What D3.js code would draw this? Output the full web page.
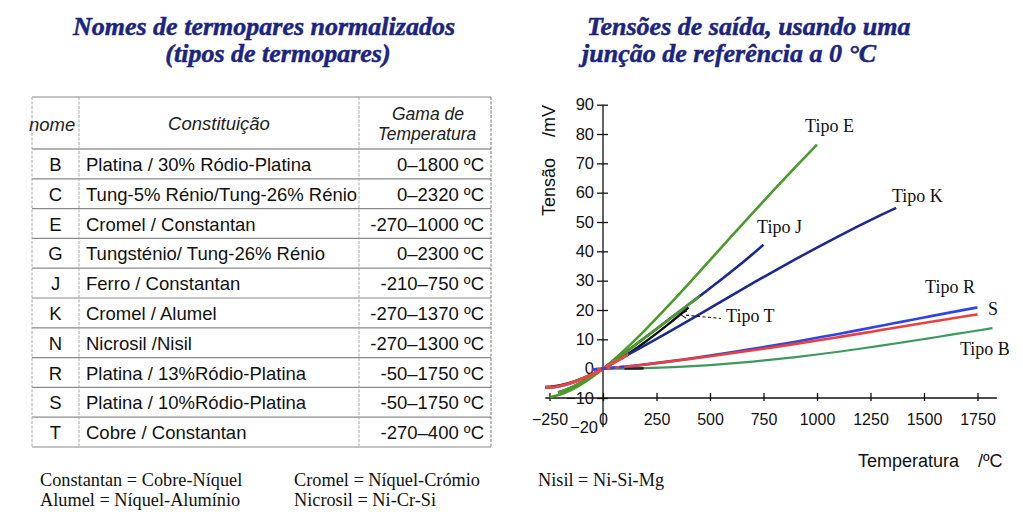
<!DOCTYPE html>
<html><head><meta charset="utf-8">
<script src="https://cdn.jsdelivr.net/npm/d3@7"></script>
<style>body{margin:0;background:#fff}svg{display:block}</style>
</head><body>
<svg id="c" width="1023" height="520"></svg>
<script>
// ---------------- DATA ----------------
const titleLeft = ["Nomes de termopares normalizados", "(tipos de termopares)"];
const titleRight = ["Tensões de saída, usando uma", "junção de referência a 0 °C"];

const tableHeaders = ["nome", "Constituição", "Gama de", "Temperatura"];
const tableNames = ["B", "C", "E", "G", "J", "K", "N", "R", "S", "T"];
const tableConstitution = [
  "Platina / 30% Ródio-Platina",
  "Tung-5% Rénio/Tung-26% Rénio",
  "Cromel / Constantan",
  "Tungsténio/ Tung-26% Rénio",
  "Ferro / Constantan",
  "Cromel / Alumel",
  "Nicrosil /Nisil",
  "Platina / 13%Ródio-Platina",
  "Platina / 10%Ródio-Platina",
  "Cobre / Constantan"
];
const tableRanges = [
  "0–1800 ºC", "0–2320 ºC", "-270–1000 ºC", "0–2300 ºC", "-210–750 ºC",
  "-270–1370 ºC", "-270–1300 ºC", "-50–1750 ºC", "-50–1750 ºC", "-270–400 ºC"
];

const footnotesCol1 = ["Constantan = Cobre-Níquel", "Alumel = Níquel-Alumínio"];
const footnotesCol2 = ["Cromel = Níquel-Crómio", "Nicrosil = Ni-Cr-Si"];
const footnotesCol3 = ["Nisil = Ni-Si-Mg"];

const xTicks = [-250, 0, 250, 500, 750, 1000, 1250, 1500, 1750];
const yTicks = [-20, -10, 0, 10, 20, 30, 40, 50, 60, 70, 80, 90];
const xTitle = ["Temperatura", "/ºC"];
const yTitle = ["Tensão", "/mV"];

// Thermocouple output (°C -> mV)
const tempE = [-250, -200, -150, -100, -50, 0, 100, 200, 300, 400, 500, 600, 700, 800, 900, 1000];
const mvE   = [-9.72, -8.83, -7.28, -5.24, -2.79, 0, 6.32, 13.42, 21.04, 28.95, 37.0, 45.09, 53.11, 61.02, 68.78, 76.37];

const tempJ = [-210, -200, -150, -100, -50, 0, 100, 200, 300, 400, 500, 600, 700, 750];
const mvJ   = [-8.10, -7.89, -6.50, -4.63, -2.43, 0, 5.27, 10.78, 16.33, 21.85, 27.39, 33.10, 39.13, 42.28];

const tempK = [-270, -250, -200, -150, -100, -50, 0, 100, 200, 300, 400, 500, 600, 700, 800, 900, 1000, 1100, 1200, 1300, 1370];
const mvK   = [-6.46, -6.40, -5.89, -4.91, -3.55, -1.89, 0, 4.10, 8.14, 12.21, 16.40, 20.64, 24.91, 29.13, 33.28, 37.33, 41.28, 45.12, 48.84, 52.41, 54.82];

const tempT = [-270, -250, -200, -150, -100, -50, 0, 100, 200, 300, 400];
const mvT   = [-6.26, -6.18, -5.60, -4.65, -3.38, -1.82, 0, 4.28, 9.29, 14.86, 20.87];

const tempR = [-50, 0, 100, 200, 300, 400, 500, 600, 700, 800, 900, 1000, 1100, 1200, 1300, 1400, 1500, 1600, 1700, 1750];
const mvR   = [-0.23, 0, 0.65, 1.47, 2.40, 3.41, 4.47, 5.58, 6.74, 7.95, 9.21, 10.51, 11.85, 13.23, 14.63, 16.04, 17.45, 18.85, 20.22, 20.88];

const tempS = [-50, 0, 100, 200, 300, 400, 500, 600, 700, 800, 900, 1000, 1100, 1200, 1300, 1400, 1500, 1600, 1700, 1750];
const mvS   = [-0.24, 0, 0.65, 1.44, 2.32, 3.26, 4.23, 5.24, 6.28, 7.35, 8.45, 9.59, 10.76, 11.95, 13.16, 14.37, 15.58, 16.78, 17.95, 18.50];

const tempB = [0, 100, 200, 300, 400, 500, 600, 700, 800, 900, 1000, 1100, 1200, 1300, 1400, 1500, 1600, 1700, 1800, 1820];
const mvB   = [0, 0.03, 0.18, 0.43, 0.79, 1.24, 1.79, 2.43, 3.15, 3.96, 4.83, 5.78, 6.79, 7.85, 8.96, 10.10, 11.26, 12.43, 13.59, 13.82];

const curveLabels = ["Tipo E", "Tipo K", "Tipo J", "Tipo R", "S", "Tipo B", "Tipo T"];

// ---------------- DRAW ----------------
const svg = d3.select("#c");
const defs = svg.append("defs");

const titleColor = "#1b2581";
const serif = "'Liberation Serif','Times New Roman',serif";
const sans = "'Liberation Sans',Arial,sans-serif";

function titleText(sel) {
  sel.attr("font-family", serif).attr("font-weight", "bold").attr("font-style", "italic")
    .attr("font-size", 26).attr("fill", titleColor)
    .attr("stroke", titleColor).attr("stroke-width", 0.5);
}
svg.append("g").selectAll("text").data(titleLeft).join("text")
  .attr("x", (d, i) => i === 0 ? 264 : 278).attr("y", (d, i) => 35 + i * 27)
  .attr("text-anchor", "middle").call(titleText).text(d => d);

svg.append("g").selectAll("text").data(titleRight).join("text")
  .attr("x", (d, i) => i === 0 ? 587 : 582).attr("y", (d, i) => 35 + i * 27)
  .call(titleText).text(d => d);

// Table
const tb = svg.append("g");
const colX = [32, 79, 359, 491];
const headTop = 97, headBot = 149, rowH = 29.8;
const rowTops = tableNames.map((d, i) => headBot + i * rowH);
const tableBottom = headBot + tableNames.length * rowH;

const hLines = [headTop, headBot].concat(rowTops.slice(1)).concat([tableBottom]);
tb.selectAll("line.h").data(hLines).join("line").attr("class", "h")
  .attr("x1", colX[0]).attr("x2", colX[3]).attr("y1", d => d).attr("y2", d => d)
  .attr("stroke", (d, i) => i === 1 ? "#6a6a6a" : "#8a8a8a").attr("stroke-width", 1.2);
tb.selectAll("line.v").data(colX).join("line").attr("class", "v")
  .attr("x1", d => d).attr("x2", d => d).attr("y1", headTop).attr("y2", tableBottom)
  .attr("stroke", (d, i) => i === 3 ? "#777" : "#a8a8a8").attr("stroke-width", 1).attr("stroke-dasharray", "3,1.5");

const hdr = tb.append("g").attr("font-family", sans).attr("font-style", "italic").attr("fill", "#222");
hdr.append("text").attr("x", 29).attr("y", 131).attr("font-size", 18.5).text(tableHeaders[0]);
hdr.append("text").attr("x", 219).attr("y", 130).attr("text-anchor", "middle").attr("font-size", 18.5).text(tableHeaders[1]);
hdr.append("text").attr("x", 428).attr("y", 120).attr("text-anchor", "middle").attr("font-size", 17.5).text(tableHeaders[2]);
hdr.append("text").attr("x", 427).attr("y", 140).attr("text-anchor", "middle").attr("font-size", 17.5).text(tableHeaders[3]);

const rows = tb.append("g").attr("font-family", sans).attr("font-size", 18.5).attr("fill", "#111")
  .selectAll("g").data(tableNames).join("g")
  .attr("transform", (d, i) => `translate(0,${rowTops[i] + 22})`);
rows.append("text").attr("x", 55.5).attr("text-anchor", "middle").text(d => d);
rows.append("text").attr("x", 86).text((d, i) => tableConstitution[i]);
rows.append("text").attr("x", 484).attr("text-anchor", "end").text((d, i) => tableRanges[i]);

// Footnotes
const fn = svg.append("g").attr("font-family", serif).attr("font-size", 18.3).attr("fill", "#111");
[[footnotesCol1, 40], [footnotesCol2, 294], [footnotesCol3, 538]].forEach(([arr, x0]) => {
  fn.append("g").selectAll("text").data(arr).join("text")
    .attr("x", x0).attr("y", (d, i) => 486 + i * 19.5).text(d => d);
});

// Chart
const x = d3.scaleLinear().domain([-250, 1750]).range([549.5, 977.5]);
const y = d3.scaleLinear().domain([-10, 90]).range([398, 104.7]);
const ch = svg.append("g");

const xAxisG = ch.append("g").attr("transform", `translate(0,${y(-10)})`)
  .call(d3.axisBottom(x).tickValues(xTicks).tickFormat(d3.format("d")).tickSize(8).tickSizeOuter(0));
xAxisG.select(".domain").remove();
xAxisG.append("line").attr("x1", x(-270)).attr("x2", x(1840)).attr("stroke", "#111").attr("stroke-width", 1.3);
xAxisG.selectAll(".tick line").attr("y1", -5).attr("y2", 3).attr("stroke", "#111").attr("stroke-width", 1.3);
xAxisG.selectAll(".tick text").attr("y", 16).attr("font-family", sans).attr("font-size", 16).attr("fill", "#111");

const yAxisG = ch.append("g").attr("transform", `translate(${x(0)},0)`)
  .call(d3.axisLeft(y).tickValues(yTicks).tickFormat(d3.format("d")).tickSize(6).tickSizeOuter(0));
yAxisG.select(".domain").remove();
yAxisG.append("line").attr("y1", y(90)).attr("y2", y(-20)).attr("stroke", "#111").attr("stroke-width", 1.3);
yAxisG.selectAll(".tick line").attr("x1", -6).attr("x2", 5).attr("stroke", "#111").attr("stroke-width", 1.3)
  .attr("display", d => d === -20 ? "none" : null);
yAxisG.selectAll(".tick text").attr("x", -9).attr("font-family", sans).attr("font-size", 16.5).attr("fill", "#111");
yAxisG.selectAll(".tick").filter(d => d === -20).select("text").attr("x", -5).attr("dy", "0.3em");

ch.append("text").attr("transform", `translate(555,187)rotate(-90)`).attr("text-anchor", "middle")
  .attr("font-family", sans).attr("font-size", 18).attr("fill", "#111").text(yTitle[0]);
ch.append("text").attr("transform", `translate(555,121)rotate(-90)`).attr("text-anchor", "middle")
  .attr("font-family", sans).attr("font-size", 18).attr("fill", "#111").text(yTitle[1]);
ch.append("text").attr("x", 858).attr("y", 467)
  .attr("font-family", sans).attr("font-size", 18).attr("fill", "#111").text(xTitle[0]);
ch.append("text").attr("x", 978).attr("y", 467)
  .attr("font-family", sans).attr("font-size", 18).attr("fill", "#111").text(xTitle[1]);

// curves
const line = d3.line().x(d => x(d[0])).y(d => y(d[1])).curve(d3.curveMonotoneX);
let clipN = 0;
function seg(ts, vs, color, w, t0, t1, dash) {
  const p = ch.append("path").datum(d3.zip(ts, vs)).attr("d", line)
    .attr("fill", "none").attr("stroke", color).attr("stroke-width", w)
    .attr("stroke-linejoin", "round");
  if (dash) p.attr("stroke-dasharray", dash);
  if (t0 !== undefined) {
    const id = "cl" + (clipN++);
    defs.append("clipPath").attr("id", id).append("rect")
      .attr("x", x(t0)).attr("y", 0).attr("width", x(t1) - x(t0)).attr("height", 520);
    p.attr("clip-path", `url(#${id})`);
  }
}
const navy = "#1c2a8e", greenE = "#4b9a2a", greenB = "#3c9a5e", blueR = "#3044e6", redS = "#e8403e";

seg(tempB, mvB, greenB, 2.2);
seg(tempB, mvB, "#222", 2.4, 100, 190);
seg(tempT, mvT, "#111", 2.4);
seg(tempK, mvK, navy, 2.6);
seg(tempJ, mvJ, navy, 2.6);
seg(tempJ, mvJ, greenE, 2.6, -215, 452);
seg(tempE, mvE, greenE, 2.6);
seg(tempK, mvK, "#e64848", 3.2, -275, 118);
seg(tempR, mvR, blueR, 2.6);
seg(tempS, mvS, redS, 2.6);
seg(tempR, mvR, blueR, 2.6, -55, 110, "5,4");

const labelAnchor = [[944, 80.7], [1350, 56.8], [720, 46.3], [1505, 25.8], [1799, 18.3], [1668, 4.7], [575, 15.9]];
ch.append("g").selectAll("text").data(curveLabels).join("text")
  .attr("x", (d, i) => x(labelAnchor[i][0])).attr("y", (d, i) => y(labelAnchor[i][1]))
  .attr("font-family", serif).attr("font-size", 18).attr("fill", "#111").text(d => d);

const ax0 = [360, 18.6], ax1 = [551, 17.1];
ch.append("line").attr("x1", x(ax0[0]) + 6).attr("y1", y(ax0[1]) + 1).attr("x2", x(ax1[0])).attr("y2", y(ax1[1]))
  .attr("stroke", "#111").attr("stroke-width", 1.1).attr("stroke-dasharray", "3,2.5");
ch.append("path")
  .attr("d", `M${x(ax0[0]) + 7},${y(ax0[1]) - 3} L${x(ax0[0])},${y(ax0[1])} L${x(ax0[0]) + 6},${y(ax0[1]) + 4}`)
  .attr("fill", "none").attr("stroke", "#111").attr("stroke-width", 1.1);
</script>
</body></html>
